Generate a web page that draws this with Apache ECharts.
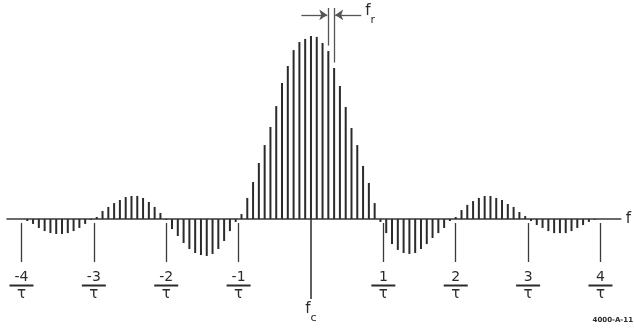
<!DOCTYPE html>
<html>
<head>
<meta charset="utf-8">
<script src="https://cdn.jsdelivr.net/npm/echarts@6/dist/echarts.min.js"></script>
<style>
  html, body { margin: 0; padding: 0; background: #fff; }
  #main { width: 634px; height: 328px; }
</style>
</head>
<body>
<div id="main"></div>
<script>
// spectral line amplitudes (peak = 1), read lobe by lobe from left to right
const lobeL3 = [-0.011, -0.027, -0.049, -0.066, -0.077, -0.082, -0.082, -0.077, -0.066, -0.049, -0.027, -0.005];
const lobeL2 = [0.011, 0.044, 0.066, 0.087, 0.104, 0.120, 0.126, 0.126, 0.115, 0.093, 0.066, 0.033];
const lobeL1 = [-0.005, -0.055, -0.093, -0.131, -0.164, -0.186, -0.197, -0.202, -0.191, -0.164, -0.120, -0.066, -0.016];
const mainLobe = [0.027, 0.115, 0.202, 0.306, 0.404, 0.503, 0.617, 0.743, 0.836, 0.923, 0.967, 0.984,
                  1.000, 0.995, 0.962, 0.918, 0.825, 0.727, 0.612, 0.497, 0.404, 0.290, 0.197, 0.087];
const lobeR1 = [-0.016, -0.077, -0.137, -0.169, -0.186, -0.191, -0.186, -0.164, -0.137, -0.104, -0.077, -0.049, -0.011];
const lobeR2 = [0.011, 0.049, 0.077, 0.098, 0.115, 0.126, 0.126, 0.115, 0.104, 0.082, 0.066, 0.038, 0.016];
const lobeR3 = [-0.011, -0.033, -0.049, -0.066, -0.077, -0.077, -0.077, -0.066, -0.049, -0.033, -0.016, -0.005];

const amplitudes = [].concat(lobeL3, lobeL2, lobeL1, mainLobe, lobeR1, lobeR2, lobeR3);
const FIRST_LINE = -49;   // harmonic index of the leftmost line
const FR = 0.08;          // line spacing f_r, in units of 1/τ

const tickValues = [-4, -3, -2, -1, 1, 2, 3, 4];
const tickLabels = ['-4', '-3', '-2', '-1', '1', '2', '3', '4'];

// the two lines marked with f_r
const markedLines = [3, 4];

const ink = '#2b2b2b';
const font = 'DejaVu Sans';

const lines = amplitudes.map((a, i) => [(FIRST_LINE + i) * FR, a]);

function ampAt(k) {
    return amplitudes[k - FIRST_LINE];
}

const fracRich = {
    n: { fontSize: 14, lineHeight: 12, fontFamily: font, color: ink, align: 'center' },
    b: { width: 24, height: 2, lineHeight: 5, backgroundColor: ink, align: 'center' },
    d: { fontSize: 15, lineHeight: 12, fontFamily: font, color: ink, align: 'center' }
};

const tickMarks = tickValues.map((v, i) => [
    {
        coord: [v, -0.022],
        label: {
            show: true,
            position: 'end',
            distance: 9,
            formatter: '{n|' + tickLabels[i] + '}\n{b|}\n{d|τ}',
            rich: fracRich
        }
    },
    { coord: [v, -0.235] }
]);

const subRich = {
    f: { fontSize: 15, fontFamily: font, color: ink, lineHeight: 22, verticalAlign: 'top' },
    s: { fontSize: 11, fontFamily: font, color: ink, lineHeight: 22, verticalAlign: 'bottom' }
};

const frMarks = markedLines.map(k => [
    { coord: [k * FR, 1.153] },
    { coord: [k * FR, ampAt(k) + 0.03] }
]);

const arrows = [
    [
        { coord: [-0.132, 1.115], symbol: 'none' },
        { coord: [markedLines[0] * FR - 0.015, 1.115], symbol: 'arrow' }
    ],
    [
        {
            coord: [0.695, 1.115], symbol: 'none',
            label: { show: true, position: 'start', distance: 4, formatter: '{f|f}{s|r}', rich: subRich }
        },
        { coord: [markedLines[1] * FR + 0.015, 1.115], symbol: 'arrow' }
    ]
];

let myChart = echarts.init(document.getElementById('main'));
myChart.setOption({
    animation: false,
    backgroundColor: '#fff',
    grid: { left: 7, right: 12, top: 0, bottom: 0 },
    xAxis: {
        type: 'value',
        min: -4.2,
        max: 4.28,
        name: 'f',
        nameLocation: 'end',
        nameGap: 5,
        nameTextStyle: { fontSize: 15, fontFamily: font, color: ink, verticalAlign: 'middle' },
        axisLine: { onZero: true, lineStyle: { color: '#3a3a3a', width: 1.5 } },
        axisTick: { show: false },
        axisLabel: { show: false },
        splitLine: { show: false }
    },
    yAxis: {
        type: 'value',
        min: -0.5956,
        max: 1.1967,
        show: false,
        splitLine: { show: false }
    },
    graphic: [{
        type: 'text',
        right: 1,
        bottom: 4,
        style: { text: '4000-A-11', fontSize: 7, fontWeight: 'bold', fontFamily: font, fill: ink }
    }],
    series: [
        {
            type: 'bar',
            data: lines,
            barWidth: 2,
            itemStyle: { color: ink },
            silent: true
        },
        {
            // 1/τ ticks with their fraction labels
            type: 'line',
            data: [],
            markLine: {
                silent: true,
                symbol: 'none',
                lineStyle: { color: '#3a3a3a', width: 1.3, type: 'solid' },
                label: { show: false },
                data: tickMarks
            }
        },
        {
            // centre frequency
            type: 'line',
            data: [],
            markLine: {
                silent: true,
                symbol: 'none',
                lineStyle: { color: ink, width: 1.5, type: 'solid' },
                data: [[
                    {
                        coord: [0, 0],
                        label: { show: true, position: 'end', distance: 3, formatter: '{f|f}{s|c}', rich: subRich }
                    },
                    { coord: [0, -0.437] }
                ]]
            }
        },
        {
            // f_r spacing annotation
            type: 'line',
            data: [],
            markLine: {
                silent: true,
                symbol: 'none',
                symbolSize: 8,
                lineStyle: { color: '#555', width: 1.3, type: 'solid' },
                label: { show: false },
                data: frMarks.concat(arrows)
            }
        }
    ]
});
</script>
</body>
</html>
